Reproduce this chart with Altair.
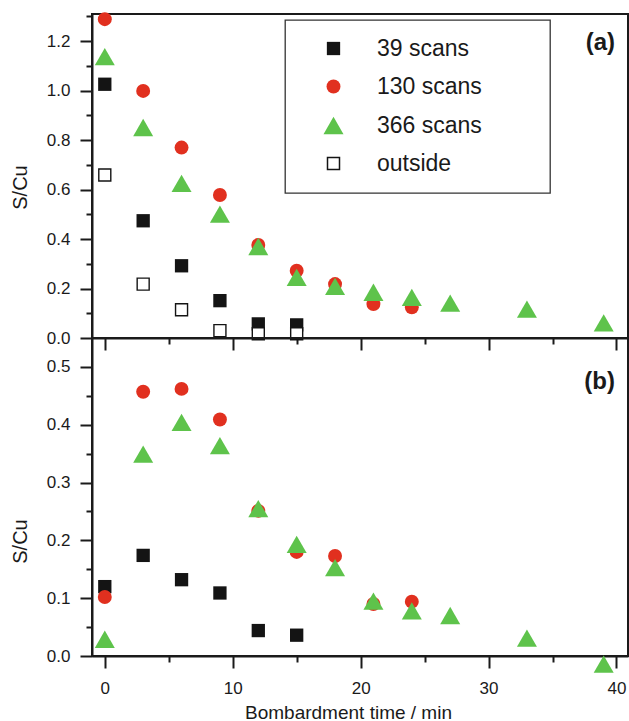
import altair as alt
import pandas as pd

# ---- data ----
series = ["39 scans", "130 scans", "366 scans", "outside"]
shapes = ["square", "circle", "triangle-up", "square"]
fills = ["#141414", "#e1301f", "#5ec34b", "#ffffff"]
strokes = ["transparent", "transparent", "transparent", "#141414"]
sizes = [177, 194, 400, 144]

time_39 = [0, 3, 6, 9, 12, 15]
time_130 = [0, 3, 6, 9, 12, 15, 18, 21, 24]
time_366 = [0, 3, 6, 9, 12, 15, 18, 21, 24, 27, 33, 39]
time_out = [0, 3, 6, 9, 12, 15]

# panel (a)
a_39 = [1.026, 0.474, 0.292, 0.151, 0.057, 0.053]
a_130 = [1.289, 0.999, 0.770, 0.578, 0.376, 0.272, 0.218, 0.137, 0.124]
a_366 = [1.138, 0.851, 0.625, 0.501, 0.370, 0.245, 0.209, 0.185, 0.164, 0.141, 0.117, 0.061]
a_out = [0.659, 0.218, 0.114, 0.030, 0.017, 0.017]

# panel (b)
b_39 = [0.120, 0.174, 0.132, 0.109, 0.044, 0.036]
b_130 = [0.102, 0.457, 0.462, 0.409, 0.251, 0.180, 0.173, 0.090, 0.094]
b_366 = [0.029, 0.349, 0.404, 0.364, 0.255, 0.193, 0.153, 0.095, 0.078, 0.070, 0.031, -0.014]

x_ticks = [0, 5, 10, 15, 20, 25, 30, 35, 40]
ya_ticks = [0.0, 0.1, 0.2, 0.3, 0.4, 0.5, 0.6, 0.7, 0.8, 0.9, 1.0, 1.1, 1.2, 1.3]
yb_ticks = [0.0, 0.05, 0.1, 0.15, 0.2, 0.25, 0.3, 0.35, 0.4, 0.45, 0.5]


def frame(times, values, name, order):
    return pd.DataFrame({"t": times, "v": values, "series": name, "order": order})


df_a = pd.concat([
    frame(time_39, a_39, series[0], 0),
    frame(time_130, a_130, series[1], 1),
    frame(time_366, a_366, series[2], 2),
    frame(time_out, a_out, series[3], 3),
], ignore_index=True)

df_b = pd.concat([
    frame(time_39, b_39, series[0], 0),
    frame(time_130, b_130, series[1], 1),
    frame(time_366, b_366, series[2], 2),
], ignore_index=True)

FONT = "Liberation Sans"
INK = "#1a1a1a"
W = 536

tick_cond_x = {"condition": {"test": "datum.value % 10 === 0", "value": 12}, "value": 6}
# trailing no-break spaces widen the legend box; the zero-width space keeps them from being trimmed
LEGEND_PAD = "\u00a0" * 8 + "\u200b"


def point_layer(df, y_scale, y_axis, x_axis, show_legend):
    legend = None
    if show_legend:
        legend = alt.Legend(
            title=None, orient="none", legendX=193, legendY=6,
            padding=17, strokeColor="#333333", fillColor="white",
            labelFont=FONT, labelFontSize=23, labelColor=INK,
            rowPadding=14, symbolOffset=20, labelOffset=32,
            labelExpr="datum.label + '" + LEGEND_PAD + "'",
        )
    return alt.Chart(df).mark_point(filled=True, opacity=1, strokeWidth=1.4, clip=False).encode(
        x=alt.X("t:Q", scale=alt.Scale(domain=[-1, 40.9], nice=False, zero=False), axis=x_axis),
        y=alt.Y("v:Q", scale=y_scale, axis=y_axis),
        shape=alt.Shape("series:N", scale=alt.Scale(domain=series, range=shapes), legend=legend),
        fill=alt.Fill("series:N", scale=alt.Scale(domain=series, range=fills), legend=legend),
        stroke=alt.Stroke("series:N", scale=alt.Scale(domain=series, range=strokes), legend=legend),
        size=alt.Size("series:N", scale=alt.Scale(type="ordinal", domain=series, range=sizes), legend=legend),
        order=alt.Order("order:Q"),
    )


common_axis = dict(
    labelFont=FONT, labelColor=INK, titleFont=FONT, titleColor=INK,
    domainColor=INK, domainWidth=2, tickColor=INK, tickWidth=2, grid=False,
    titleFontWeight="normal",
)

xa_axis = alt.Axis(values=x_ticks, labels=False, title=None, tickSize=tick_cond_x, **common_axis)
xb_axis = alt.Axis(values=x_ticks, labelExpr="datum.value % 10 === 0 ? datum.label : ''",
                   title="Bombardment time / min", tickSize=tick_cond_x,
                   labelFontSize=17, labelPadding=12, titleFontSize=19, titlePadding=7,
                   titleX=256, **common_axis)

ya_axis = alt.Axis(values=ya_ticks, title="S/Cu",
                   labelExpr="round(datum.value * 10) % 2 === 0 ? format(datum.value, '.1f') : ''",
                   tickSize={"condition": {"test": "round(datum.value * 10) % 2 === 0", "value": 12}, "value": 6},
                   labelFontSize=17, labelPadding=10, titleFontSize=20, titlePadding=16,
                   titleY=173, **common_axis)
yb_axis = alt.Axis(values=yb_ticks, title="S/Cu",
                   labelExpr="round(datum.value * 20) % 2 === 0 ? format(datum.value, '.1f') : ''",
                   tickSize={"condition": {"test": "round(datum.value * 20) % 2 === 0", "value": 12}, "value": 6},
                   labelFontSize=17, labelPadding=10, titleFontSize=20, titlePadding=16,
                   titleY=203, **common_axis)

pts_a = point_layer(df_a, alt.Scale(domain=[0, 1.31], nice=False), ya_axis, xa_axis, True)
pts_b = point_layer(df_b, alt.Scale(domain=[0, 0.55], nice=False), yb_axis, xb_axis, False)

label_a = alt.Chart(pd.DataFrame({"lab": ["(a)"]})).mark_text(
    font=FONT, fontSize=24, fontWeight="bold", align="right", baseline="middle", color=INK
).encode(text="lab:N", x=alt.value(523), y=alt.value(29))

label_b = alt.Chart(pd.DataFrame({"lab": ["(b)"]})).mark_text(
    font=FONT, fontSize=24, fontWeight="bold", align="right", baseline="middle", color=INK
).encode(text="lab:N", x=alt.value(523), y=alt.value(44))

top = alt.layer(pts_a, label_a).properties(width=W, height=324)
bottom = alt.layer(pts_b, label_b).properties(width=W, height=318)

chart = alt.vconcat(top, bottom, spacing=0, bounds="flush").resolve_legend(
    shape="independent", fill="independent", stroke="independent", size="independent"
).resolve_scale(x="independent", y="independent").properties(
    padding={"left": 9, "top": 8, "right": 0, "bottom": 0}, background="white"
).configure_view(stroke=INK, strokeWidth=2).configure_legend(strokeWidth=1.3)

chart.save("out.html", embed_options={"renderer": "svg", "actions": False})
